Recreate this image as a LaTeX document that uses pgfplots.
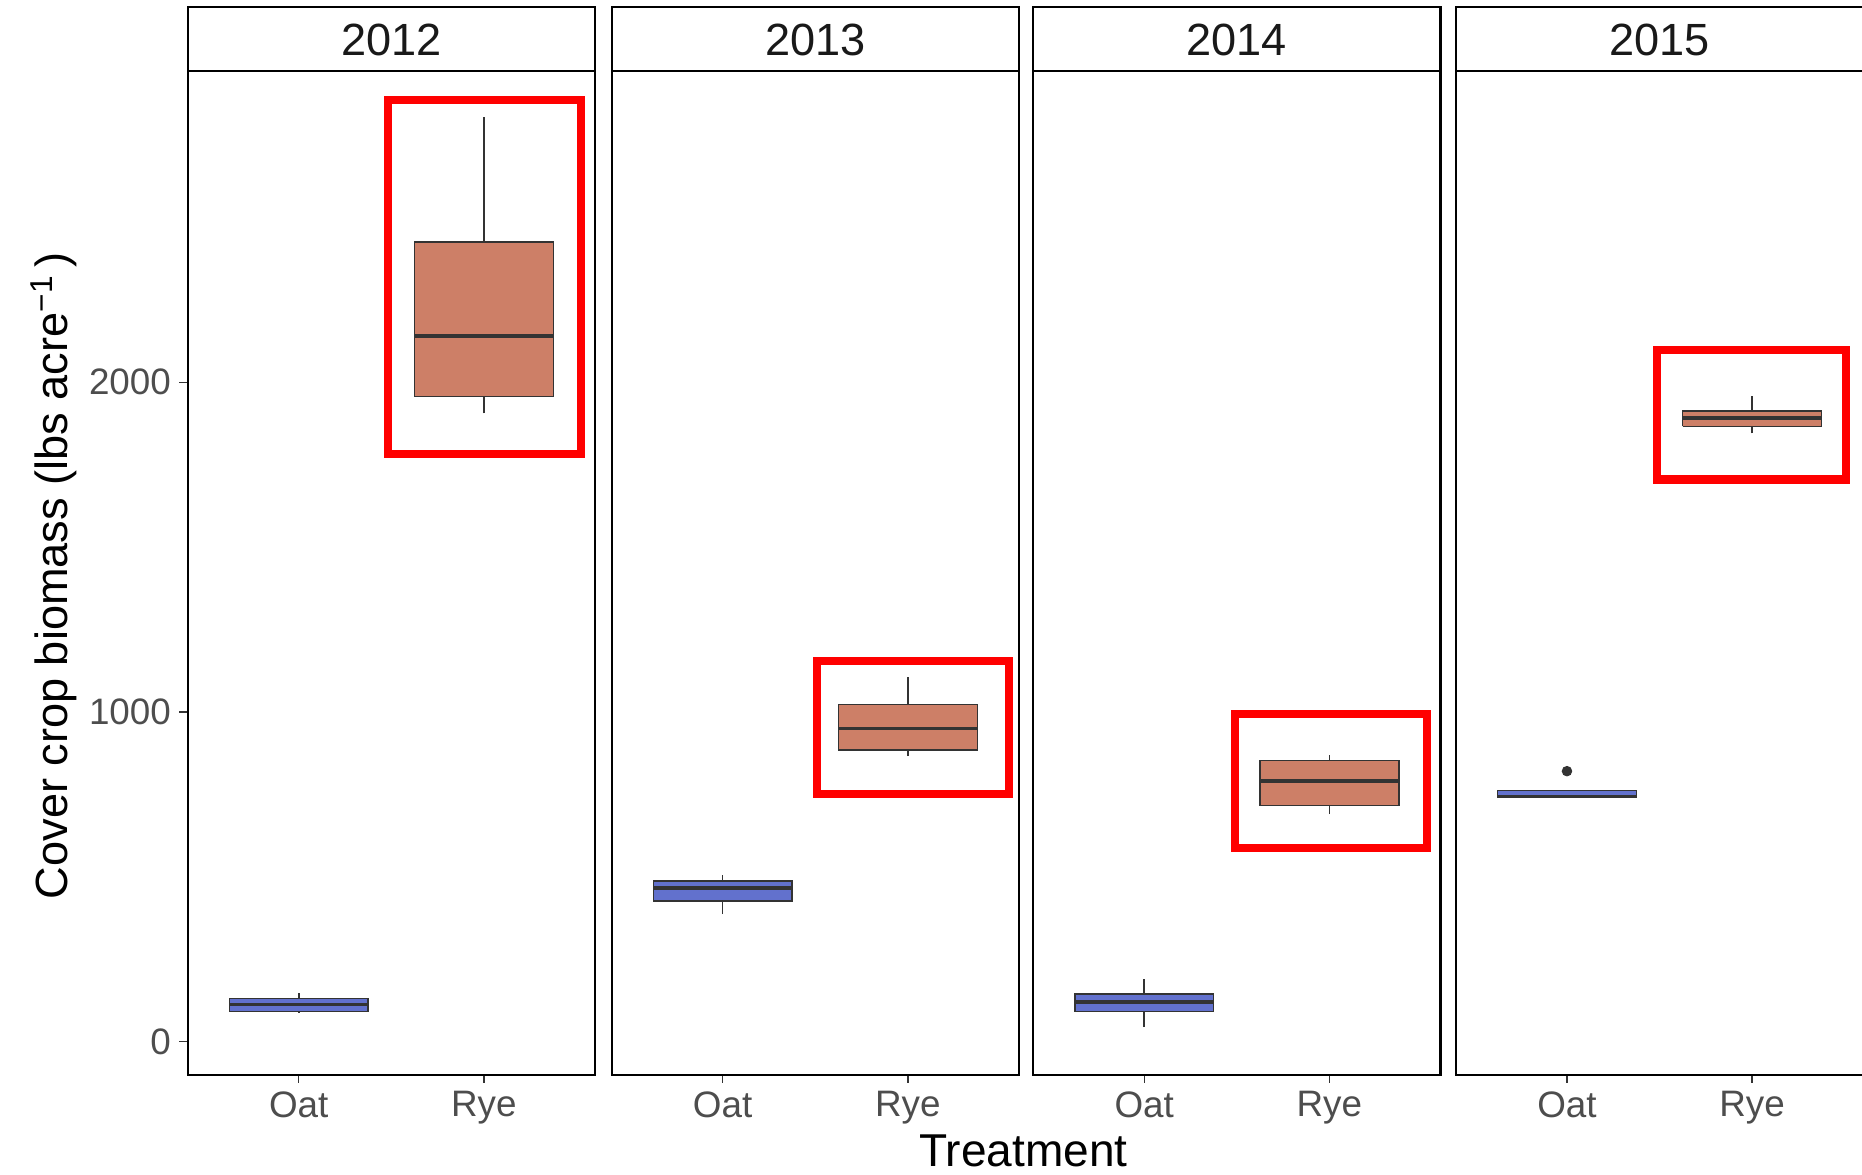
\documentclass[border=0pt]{standalone}
\usepackage{fontspec}
\setmainfont{Liberation Sans}
\usepackage{pgfplots}
\pgfplotsset{compat=1.18}

\definecolor{oatfill}{RGB}{98,113,205}
\definecolor{ryefill}{RGB}{205,127,103}
\definecolor{boxline}{RGB}{51,51,51}
\definecolor{ticktext}{RGB}{77,77,77}

\tikzset{callout/.style={draw=red, line width=3.4pt}}

\pgfplotsset{
  facet/.style={
    scale only axis, width=171.5pt, height=422.5pt,
    anchor=south west,
    xmin=0.4, xmax=2.6, ymin=-101, ymax=2944,
    xtick={1,2}, xticklabels={Oat,Rye},
    ytick={0,1000,2000},
    tick pos=left,
    tick align=outside, major tick length=3.5pt,
    tick style={boxline, line width=0.6pt},
    axis line style={black, line width=0.9pt},
    tick label style={font=\fontsize{15.5}{15.5}\selectfont, text=ticktext},
    /pgf/number format/assume math mode=true,
    /pgf/number format/set thousands separator={},
    clip=false,
  },
  inner/.style={facet, ytick=\empty},
  whisker/.style={draw=boxline, line width=0.7pt, mark=none},
  median/.style={draw=boxline, line width=1.5pt, mark=none},
  oat/.style={fill=oatfill, draw=boxline, line width=0.6pt, mark=none},
  rye/.style={fill=ryefill, draw=boxline, line width=0.6pt, mark=none},
}

\begin{document}
\begin{tikzpicture}

% ---- 2012 ----
\begin{axis}[facet, at={(79pt,42pt)}]
  % Oat: whiskers 87/148, quartiles 90/130, median 112
  \addplot[whisker] coordinates {(1,87) (1,148)};
  \addplot[oat] coordinates {(0.625,90) (1.375,90) (1.375,130) (0.625,130) (0.625,90)};
  \addplot[median] coordinates {(0.625,112) (1.375,112)};
  % Rye: whiskers 1906/2805, quartiles 1957/2426, median 2141
  \addplot[whisker] coordinates {(2,1906) (2,2805)};
  \addplot[rye] coordinates {(1.625,1957) (2.375,1957) (2.375,2426) (1.625,2426) (1.625,1957)};
  \addplot[median] coordinates {(1.625,2141) (2.375,2141)};
  \draw[callout] (axis cs:1.484,2856) rectangle (axis cs:2.523,1783);
\end{axis}

% ---- 2013 ----
\begin{axis}[inner, at={(257.5pt,42pt)}]
  \addplot[whisker] coordinates {(1,386) (1,505)};
  \addplot[oat] coordinates {(0.625,426) (1.375,426) (1.375,487) (0.625,487) (0.625,426)};
  \addplot[median] coordinates {(0.625,466) (1.375,466)};
  \addplot[whisker] coordinates {(2,866) (2,1105)};
  \addplot[rye] coordinates {(1.625,884) (2.375,884) (2.375,1022) (1.625,1022) (1.625,884)};
  \addplot[median] coordinates {(1.625,949) (2.375,949)};
  \draw[callout] (axis cs:1.510,1155) rectangle (axis cs:2.549,751);
\end{axis}

% ---- 2014 ----
\begin{axis}[inner, at={(435pt,42pt)}]
  \addplot[whisker] coordinates {(1,43) (1,188)};
  \addplot[oat] coordinates {(0.625,90) (1.375,90) (1.375,144) (0.625,144) (0.625,90)};
  \addplot[median] coordinates {(0.625,119) (1.375,119)};
  \addplot[whisker] coordinates {(2,690) (2,870)};
  \addplot[rye] coordinates {(1.625,715) (2.375,715) (2.375,852) (1.625,852) (1.625,715)};
  \addplot[median] coordinates {(1.625,791) (2.375,791)};
  \draw[callout] (axis cs:1.490,993) rectangle (axis cs:2.529,588);
\end{axis}

% ---- 2015 ----
\begin{axis}[inner, at={(613pt,42pt)}]
  \addplot[oat] coordinates {(0.625,740) (1.375,740) (1.375,762) (0.625,762) (0.625,740)};
  \addplot[median] coordinates {(0.625,743) (1.375,743)};
  \addplot[only marks, mark=*, mark size=2pt, color=boxline] coordinates {(1,820)};
  \addplot[whisker] coordinates {(2,1845) (2,1957)};
  \addplot[rye] coordinates {(1.625,1866) (2.375,1866) (2.375,1913) (1.625,1913) (1.625,1866)};
  \addplot[median] coordinates {(1.625,1891) (2.375,1891)};
  \draw[callout] (axis cs:1.484,2099) rectangle (axis cs:2.507,1705);
\end{axis}

% facet strips
\foreach \x/\lab in {79/2012, 257.5/2013, 435/2014, 613/2015} {
  \draw[black, line width=0.9pt, fill=white] (\x pt,464.5pt) rectangle ++(171.5pt,27pt);
  \node[font=\fontsize{19}{19}\selectfont, text=black!90] at ({\x pt+85.75pt},477.5pt) {\lab};
}

% axis titles
\node[anchor=base, font=\fontsize{19.4}{19.4}\selectfont] at (431pt,3.5pt) {Treatment};
\node[anchor=base, rotate=90, font=\fontsize{19}{19}\selectfont] at (28.5pt,252pt)
  {Cover crop biomass (lbs acre\textsuperscript{−1}\,)};

\pgfresetboundingbox
\path[use as bounding box] (0,0) rectangle (784pt,494.5pt);
\end{tikzpicture}
\end{document}
